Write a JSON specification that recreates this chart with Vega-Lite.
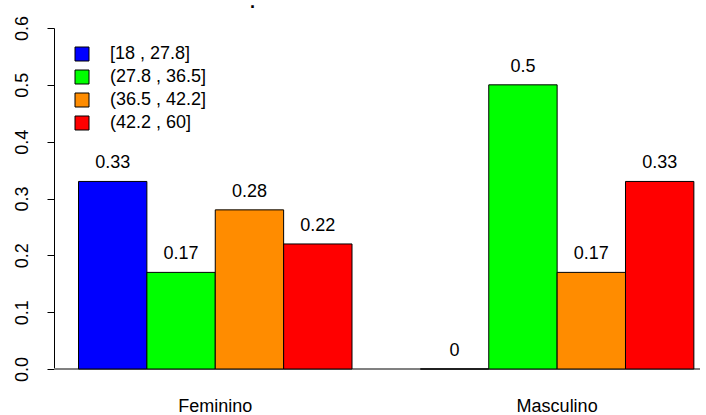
{
  "$schema": "https://vega.github.io/schema/vega-lite/v6.json",
  "width": 646,
  "height": 341,
  "autosize": {"type": "none"},
  "padding": {"left": 54, "top": 28, "right": 6, "bottom": 46},
  "title": {"text": ".", "fontSize": 18, "fontWeight": "bold", "anchor": "start", "frame": "group", "dx": 196, "dy": 11, "offset": 0, "baseline": "alphabetic", "color": "black"},
  "data": {"values": [
    {"sexo": "Feminino", "edad": "[18 , 27.8]", "prop": 0.33},
    {"sexo": "Feminino", "edad": "(27.8 , 36.5]", "prop": 0.17},
    {"sexo": "Feminino", "edad": "(36.5 , 42.2]", "prop": 0.28},
    {"sexo": "Feminino", "edad": "(42.2 , 60]", "prop": 0.22},
    {"sexo": "Masculino", "edad": "[18 , 27.8]", "prop": 0},
    {"sexo": "Masculino", "edad": "(27.8 , 36.5]", "prop": 0.5},
    {"sexo": "Masculino", "edad": "(36.5 , 42.2]", "prop": 0.17},
    {"sexo": "Masculino", "edad": "(42.2 , 60]", "prop": 0.33}
  ]},
  "layer": [
    {
      "mark": {"type": "rule", "color": "#808080", "strokeWidth": 1},
      "encoding": {"y": {"datum": 0, "type": "quantitative", "scale": {"domain": [0, 0.6], "nice": false, "zero": true}}}
    },
    {
      "mark": {"type": "bar", "stroke": "black", "strokeWidth": 1, "opacity": 1},
      "encoding": {
        "x": {"field": "sexo", "type": "nominal", "sort": ["Feminino", "Masculino"],
              "scale": {"paddingInner": 0.2, "paddingOuter": 0.0448, "align": 0.8},
              "axis": {"title": null, "domain": false, "ticks": false, "labelAngle": 0, "labelFontSize": 18, "labelFont": "Liberation Sans", "labelColor": "black", "labelBaseline": "alphabetic", "labelPadding": 42}},
        "xOffset": {"field": "edad", "type": "nominal", "sort": ["[18 , 27.8]", "(27.8 , 36.5]", "(36.5 , 42.2]", "(42.2 , 60]"], "scale": {"paddingInner": 0, "paddingOuter": 0}},
        "y": {"field": "prop", "type": "quantitative",
              "scale": {"domain": [0, 0.6], "nice": false, "zero": true},
              "axis": {"title": null, "values": [0, 0.1, 0.2, 0.3, 0.4, 0.5, 0.6], "format": ".1f", "grid": false, "domainColor": "black", "tickColor": "black", "tickSize": 7, "labelAngle": 270, "labelFontSize": 18, "labelFont": "Liberation Sans", "labelColor": "black", "labelBaseline": "alphabetic", "labelAlign": "center", "labelPadding": 20}},
        "color": {"field": "edad", "type": "nominal",
                  "scale": {"domain": ["[18 , 27.8]", "(27.8 , 36.5]", "(36.5 , 42.2]", "(42.2 , 60]"], "range": ["#0000FF", "#00FF00", "#FF8C00", "#FF0000"]},
                  "legend": {"title": null, "orient": "none", "legendX": 19, "legendY": 17, "padding": 0, "symbolType": "square", "symbolSize": 196, "symbolStrokeColor": "black", "symbolStrokeWidth": 1, "symbolOpacity": 1, "labelFontSize": 18, "labelFont": "Liberation Sans", "labelColor": "black", "labelOffset": 19, "rowPadding": 5}}
      }
    },
    {
      "mark": {"type": "text", "dy": -18, "fontSize": 18, "font": "Liberation Sans", "baseline": "middle", "color": "black"},
      "encoding": {
        "x": {"field": "sexo", "type": "nominal", "sort": ["Feminino", "Masculino"]},
        "xOffset": {"field": "edad", "type": "nominal", "sort": ["[18 , 27.8]", "(27.8 , 36.5]", "(36.5 , 42.2]", "(42.2 , 60]"]},
        "y": {"field": "prop", "type": "quantitative"},
        "text": {"field": "prop", "type": "quantitative"}
      }
    }
  ],
  "config": {"view": {"stroke": null}, "font": "Liberation Sans", "axis": {"domainWidth": 1, "tickWidth": 1}}
}
